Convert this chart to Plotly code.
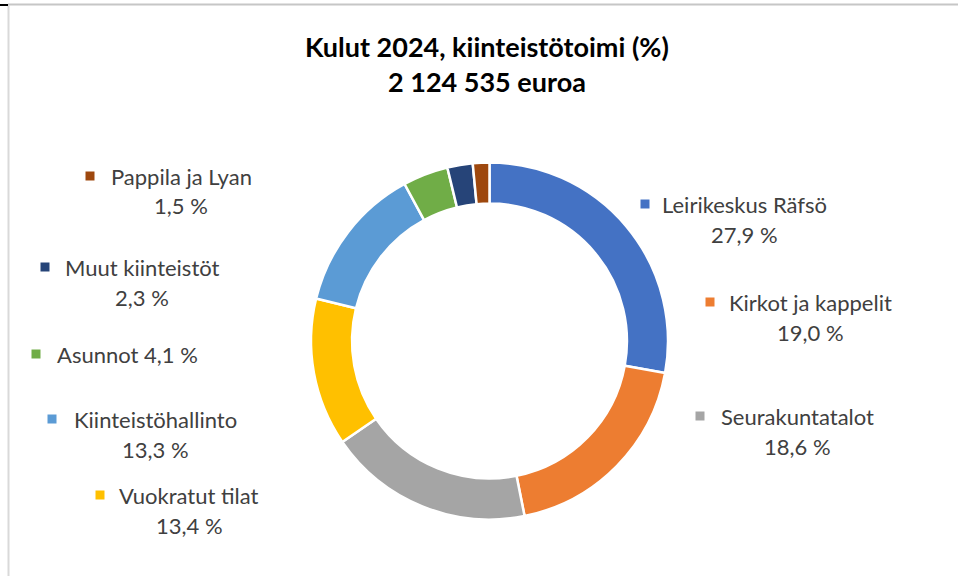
import plotly.graph_objects as go

W, H = 958, 576

# ---- data ----
categories = ["Leirikeskus Räfsö", "Kirkot ja kappelit", "Seurakuntatalot", "Vuokratut tilat",
              "Kiinteistöhallinto", "Asunnot", "Muut kiinteistöt", "Pappila ja Lyan"]
values = [27.9, 19.0, 18.6, 13.4, 13.3, 4.1, 2.3, 1.5]
value_labels = ["27,9 %", "19,0 %", "18,6 %", "13,4 %", "13,3 %", "4,1 %", "2,3 %", "1,5 %"]
title_lines = ["Kulut 2024, kiinteistötoimi (%)", "2 124 535 euroa"]

# ---- style ----
colors = ["#4472C4", "#ED7D31", "#A5A5A5", "#FFC000", "#5B9BD5", "#70AD47", "#264478", "#9E480E"]
FONT = "Lato"
TXT = "#404040"
LSIZE = 22
TSIZE = 27

# label layout: (text centre x, first line y, marker x, single_line)
label_pos = [
    (744, 204, 645, False),
    (810, 302, 710, False),
    (797, 416, 700, False),
    (189, 495, 100, False),
    (155, 419, 52, False),
    (125, 354, 36, True),
    (142, 267, 45, False),
    (181, 176, 90, False),
]

def px(x):
    return x / W

def py(y):
    return 1 - y / H

cx, cy, r = 489.5, 341.0, 178.5

fig = go.Figure(go.Pie(
    labels=categories, values=values, hole=0.77, sort=False, direction="clockwise",
    rotation=0, marker=dict(colors=colors, line=dict(color="white", width=2.5)),
    textinfo="none", hoverinfo="label+percent", showlegend=False,
    domain=dict(x=[px(cx - r), px(cx + r)], y=[py(cy + r), py(cy - r)]),
))

annotations = []
annotations.append(dict(x=px(487), y=py(47), xref="paper", yref="paper", showarrow=False,
                        text="<b>" + title_lines[0] + "</b>", font=dict(family=FONT, size=TSIZE, color="black"),
                        xanchor="center", yanchor="middle"))
annotations.append(dict(x=px(487), y=py(81), xref="paper", yref="paper", showarrow=False,
                        text="<b>" + title_lines[1] + "</b>", font=dict(family=FONT, size=TSIZE, color="black"),
                        xanchor="center", yanchor="middle"))

for name, vl, col, (tx, ty, mx, single) in zip(categories, value_labels, colors, label_pos):
    if single:
        annotations.append(dict(x=px(mx + 19), y=py(ty), xref="paper", yref="paper", showarrow=False,
                                text=name + " " + vl, font=dict(family=FONT, size=LSIZE, color=TXT),
                                xanchor="left", yanchor="middle"))
    else:
        annotations.append(dict(x=px(tx), y=py(ty), xref="paper", yref="paper", showarrow=False,
                                text=name, font=dict(family=FONT, size=LSIZE, color=TXT),
                                xanchor="center", yanchor="middle"))
        annotations.append(dict(x=px(tx), y=py(ty + 30), xref="paper", yref="paper", showarrow=False,
                                text=vl, font=dict(family=FONT, size=LSIZE, color=TXT),
                                xanchor="center", yanchor="middle"))

shapes = []
for name, col, (tx, ty, mx, single) in zip(categories, colors, label_pos):
    shapes.append(dict(type="rect", xref="paper", yref="paper",
                       x0=px(mx - 4.5), x1=px(mx + 4.5), y0=py(ty + 4.5), y1=py(ty - 4.5),
                       fillcolor=col, line=dict(width=0)))
# frame lines
shapes.append(dict(type="line", xref="paper", yref="paper", x0=px(8), x1=1, y0=py(4.5), y1=py(4.5),
                   line=dict(color="#c6c6c6", width=2)))
shapes.append(dict(type="line", xref="paper", yref="paper", x0=px(8.5), x1=px(8.5), y0=py(5), y1=0,
                   line=dict(color="#d9d9d9", width=2)))
shapes.append(dict(type="line", xref="paper", yref="paper", x0=0, x1=px(8), y0=py(5), y1=py(5),
                   line=dict(color="black", width=2)))

fig.update_layout(width=W, height=H, margin=dict(l=0, r=0, t=0, b=0),
                  paper_bgcolor="white", plot_bgcolor="white",
                  annotations=annotations, shapes=shapes)

fig.write_html("out.html", config={"displayModeBar": False},
               post_script="document.body.style.margin='0';document.body.style.overflow='hidden';")
